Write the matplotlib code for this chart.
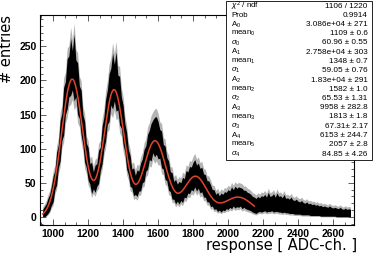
import numpy as np
import matplotlib.pyplot as plt
from matplotlib.ticker import MultipleLocator, AutoMinorLocator
from matplotlib.patches import Rectangle

plt.rcParams['mathtext.fontset'] = 'custom'
plt.rcParams['mathtext.rm'] = 'Liberation Sans'
plt.rcParams['mathtext.it'] = 'Liberation Sans:italic'

# histogram band, one value every 10 ADC-ch. from 940 to 2700
# lo / hi = lower and upper edge of the black band of bin contents
lo = [0, 0, 2, 5, 9, 17,
      22, 40, 47, 72, 82, 112, 120, 150, 158, 176,
      178, 186, 170, 176, 150, 144, 120, 106, 80, 72,
      54, 48, 34, 41, 36, 45, 49, 68, 78, 100,
      112, 136, 140, 164, 158, 170, 155, 157, 135, 130,
      106, 95, 70, 62, 45, 43, 31, 33, 30, 38,
      38, 50, 52, 67, 70, 84, 82, 94, 88, 92,
      85, 86, 72, 70, 55, 53, 39, 37, 26, 26,
      19, 23, 19, 24, 21, 29, 28, 35, 34, 40,
      38, 44, 38, 42, 35, 37, 29, 29, 22, 22,
      15, 16, 11, 12, 8, 10, 7, 10, 9, 12,
      11, 14, 12, 16, 13, 15, 14, 16, 12, 14,
      12, 11, 10, 9, 7, 6, 5, 7, 8, 7,
      8, 9, 7, 8, 8, 9, 7, 8, 8, 7,
      7, 6, 7, 6, 6, 5, 5, 5, 4, 4,
      4, 4, 3, 3, 3, 3, 3, 2, 2, 2,
      2, 2, 2, 1, 1, 1, 1, 1, 1, 1,
      1, 1, 0, 0, 0, 0, 0, 0, 0, 0,
      0]
hi = [11, 15, 19, 27, 33, 45,
      60, 68, 95, 106, 141, 152, 190, 198, 232, 236,
      262, 244, 268, 230, 226, 192, 186, 150, 140, 108,
      102, 78, 80, 66, 76, 78, 98, 102, 133, 146,
      172, 186, 210, 218, 240, 224, 242, 208, 206, 176,
      164, 137, 124, 99, 90, 70, 72, 61, 69, 67,
      79, 85, 99, 104, 121, 127, 137, 142, 146, 147,
      140, 128, 126, 106, 104, 87, 82, 66, 65, 52,
      55, 48, 52, 50, 58, 56, 68, 66, 74, 73,
      80, 84, 76, 79, 71, 73, 63, 62, 53, 53,
      47, 40, 40, 33, 36, 31, 35, 33, 37, 36,
      40, 38, 44, 40, 45, 42, 44, 43, 42, 39,
      39, 36, 35, 33, 30, 29, 27, 30, 28, 31,
      30, 33, 29, 36, 30, 31, 34, 29, 35, 30,
      31, 28, 33, 27, 28, 26, 29, 25, 24, 26,
      23, 22, 24, 21, 20, 22, 19, 20, 18, 19,
      17, 18, 16, 17, 15, 16, 15, 14, 16, 14,
      13, 14, 13, 12, 14, 12, 11, 13, 11, 12,
      11]
adc = 940 + 10 * np.arange(len(lo))

# fit parameters from the stats box (5 gaussians)
amp = [3.086e4, 2.758e4, 1.83e4, 9958, 6153]
mean = [1109, 1348, 1582, 1813, 2057]
sigma = [60.96, 59.05, 65.53, 67.31, 84.85]
fit_min, fit_max = 940, 2150

stat_names = [r'$\chi^2$ / ndf', 'Prob',
              r'A$_0$', r'mean$_0$', r'$\sigma_0$',
              r'A$_1$', r'mean$_1$', r'$\sigma_1$',
              r'A$_2$', r'mean$_2$', r'$\sigma_2$',
              r'A$_3$', r'mean$_3$', r'$\sigma_3$',
              r'A$_4$', r'mean$_5$', r'$\sigma_4$']
stat_vals = ['1106 / 1220', '0.9914',
             '3.086e+04 ± 271', '1109 ± 0.6', '60.96 ± 0.55',
             '2.758e+04 ± 303', '1348 ± 0.7', '59.05 ± 0.76',
             '1.83e+04 ± 291', '1582 ± 1.0', '65.53 ± 1.31',
             '9958 ± 282.8', '1813 ± 1.8', '67.31± 2.17',
             '6153 ± 244.7', '2057 ± 2.8', '84.85 ± 4.26']

lo = np.array(lo, dtype=float)
hi = np.array(hi, dtype=float)

fig = plt.figure(figsize=(3.74, 2.59), dpi=100)
ax = fig.add_axes([0.107, 0.131, 0.8395, 0.811])

# error bars (grey) and bin contents (black)
ax.fill_between(adc, lo - np.sqrt(lo), hi + np.sqrt(hi), color='#b4b4b4', lw=0)
ax.fill_between(adc, lo, hi, color='black', lw=0)

xf = np.linspace(fit_min, fit_max, 600)
yf = np.zeros_like(xf)
for a, m, s in zip(amp, mean, sigma):
    yf += a / (np.sqrt(2 * np.pi) * s) * np.exp(-0.5 * ((xf - m) / s) ** 2)
ax.plot(xf, yf, color='#e2432a', lw=1.1)

ax.set_xlim(925, 2720)
ax.set_ylim(-12, 296)
ax.xaxis.set_major_locator(MultipleLocator(200))
ax.xaxis.set_minor_locator(AutoMinorLocator(3))
ax.yaxis.set_major_locator(MultipleLocator(50))
ax.yaxis.set_minor_locator(MultipleLocator(10))
ax.tick_params(which='both', direction='in', top=True, right=True, width=0.6, color='#444444')
ax.tick_params(which='major', length=4.5, labelsize=7.5, pad=2.5)
ax.tick_params(which='minor', length=2.2)
for lab in ax.get_xticklabels() + ax.get_yticklabels():
    lab.set_fontfamily('Liberation Sans')
    lab.set_fontweight('bold')
for sp in ax.spines.values():
    sp.set_linewidth(0.8)

ax.set_xlabel('response [ ADC-ch. ]', fontsize=10.5, loc='right')
ax.xaxis.set_label_coords(1.01, -0.062)
ax.set_ylabel('# entries', fontsize=10.5, loc='top')
ax.yaxis.set_label_coords(-0.083, 1.0)

# stats box
fig.add_artist(Rectangle((0.604, 0.382), 0.39, 0.614, transform=fig.transFigure,
                         fc='white', ec='black', lw=0.6))
for i, (n, v) in enumerate(zip(stat_names, stat_vals)):
    y = 1 - (6 + 9.25 * i) / 259
    fig.text(0.618, y, n, fontsize=5.7, family='Liberation Sans', va='center', ha='left')
    fig.text(0.983, y, v, fontsize=5.9, family='Liberation Sans', va='center', ha='right')

fig.savefig('out.png', dpi=100)
